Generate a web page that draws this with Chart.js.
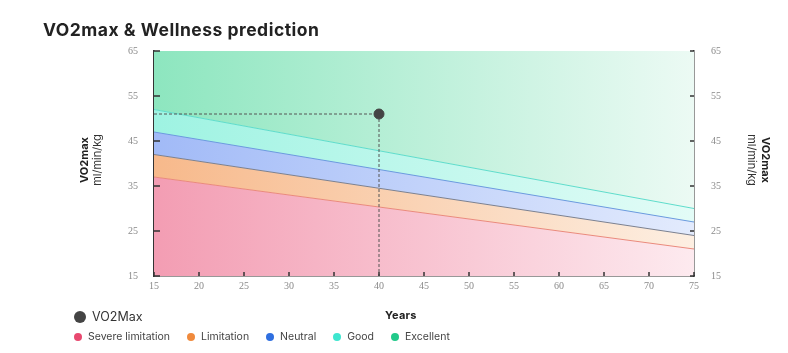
<!DOCTYPE html>
<html>
<head>
<meta charset="utf-8">
<script src="https://cdn.jsdelivr.net/npm/chart.js@4.4.1/dist/chart.umd.min.js"></script>
<style>
  body { margin: 0; background: #fff; }
  #wrap { position: relative; width: 788px; height: 353px; overflow: hidden; font-family: Inter, "Noto Sans", sans-serif; }
  #wrap canvas { position: absolute; left: 0; top: 0; }
  .titulo { position: absolute; left: 43px; top: 19px; font-size: 17.5px; font-weight: 700; color: #222; letter-spacing: 0.5px; }
  .years { position: absolute; left: 385px; top: 308px; font-size: 11px; font-weight: 700; color: #222; letter-spacing: 0.2px; }
  .leg { position: absolute; display: flex; align-items: center; color: #444; white-space: nowrap; }
  .leg i { display: inline-block; border-radius: 50%; margin-right: 6px; }
  .fila1 { left: 74px; top: 309px; font-size: 12.5px; color: #333; }
  .fila1 i { width: 12px; height: 12px; background: #444; margin-right: 6px; }
  .fila2 { left: 74px; top: 330px; font-size: 10.5px; }
  .fila2 span { display: flex; align-items: center; margin-right: 17px; }
  .fila2 i { width: 8px; height: 8px; }
</style>
</head>
<body>
<div id="wrap">
  <canvas id="grafico" width="788" height="353"></canvas>
  <div class="titulo">VO2max &amp; Wellness prediction</div>
  <div class="years">Years</div>
  <div class="leg fila1"><i></i>VO2Max</div>
  <div class="leg fila2" id="leyenda"></div>
</div>
<script>
// Datos
const years = [15, 75];
const severeTop = [37, 21];
const limitationTop = [42, 24];
const neutralTop = [47, 27];
const goodTop = [52, 30];
const excellentTop = [65, 65];

const vo2Age = [40];
const vo2Value = [51];

const zoneNames = ["Severe limitation", "Limitation", "Neutral", "Good", "Excellent"];
const zoneDots = ["#e8496f", "#f08a3c", "#2f6fe0", "#3ee6cf", "#22c98a"];

const yMin = 15, yMax = 65, yStep = 10;
const xMin = 15, xMax = 75, xStep = 5;

// colores de las bandas (izquierda -> derecha)
const zoneFill = [
  ["#f39db3", "#fdeaef"],
  ["#f7b98b", "#fdefe2"],
  ["#a1baf7", "#e3ebfd"],
  ["#9ef3e2", "#e3fcf7"],
  ["#8de6bf", "#ecfaf4"]
];
const zoneLine = ["#ea8a7c", "#7a8090", "#6a9ade", "#5edccb", "rgba(0,0,0,0)"];

function puntos(vals) {
  return years.map(function(x, i) { return { x: x, y: vals[i] }; });
}

function degradado(par) {
  return function(ctx) {
    const area = ctx.chart.chartArea;
    if (!area) return par[0];
    const g = ctx.chart.ctx.createLinearGradient(area.left, 0, area.right, 0);
    g.addColorStop(0, par[0]);
    g.addColorStop(1, par[1]);
    return g;
  };
}

const bandas = [severeTop, limitationTop, neutralTop, goodTop, excellentTop];
const datasets = bandas.map(function(vals, i) {
  return {
    label: zoneNames[i],
    data: puntos(vals),
    fill: i === 0 ? "start" : "-1",
    backgroundColor: degradado(zoneFill[i]),
    borderColor: zoneLine[i],
    borderWidth: i === 4 ? 0 : 1,
    pointRadius: 0,
    order: 5
  };
});

// lineas guia hasta el punto
datasets.push({
  label: "guia",
  data: [{ x: xMin, y: vo2Value[0] }, { x: vo2Age[0], y: vo2Value[0] }, { x: vo2Age[0], y: yMin }],
  borderColor: "#555",
  borderWidth: 1,
  borderDash: [3, 2],
  pointRadius: 0,
  fill: false,
  order: 1
});

datasets.push({
  label: "VO2Max",
  type: "scatter",
  data: vo2Age.map(function(x, i) { return { x: x, y: vo2Value[i] }; }),
  backgroundColor: "#444",
  borderColor: "#444",
  pointRadius: 5,
  order: 0
});

// marcas hacia adentro y titulos de ejes
const extras = {
  id: "extras",
  afterDraw: function(chart) {
    const c = chart.ctx;
    const a = chart.chartArea;
    const sx = chart.scales.x, sy = chart.scales.y;
    c.save();
    c.strokeStyle = "#333";
    c.lineWidth = 1.5;
    c.beginPath();
    for (let v = yMin; v <= yMax; v += yStep) {
      const py = sy.getPixelForValue(v);
      c.moveTo(a.left, py); c.lineTo(a.left + 6, py);
      c.moveTo(a.right, py); c.lineTo(a.right - 4, py);
    }
    for (let v = xMin; v <= xMax; v += xStep) {
      const px = sx.getPixelForValue(v);
      c.moveTo(px, a.bottom); c.lineTo(px, a.bottom - 4);
    }
    c.stroke();

    const cy = 160;
    c.fillStyle = "#222";
    c.textAlign = "center";
    c.textBaseline = "middle";
    // izquierda
    c.save();
    c.translate(85, cy);
    c.rotate(-Math.PI / 2);
    c.font = "bold 11px Inter, sans-serif";
    c.fillText("VO2max", 0, 0);
    c.font = "11px Inter, sans-serif";
    c.fillStyle = "#333";
    c.fillText("ml/min/kg", 0, 13);
    c.restore();
    // derecha
    c.save();
    c.translate(765, cy);
    c.rotate(Math.PI / 2);
    c.fillStyle = "#222";
    c.font = "bold 11px Inter, sans-serif";
    c.fillText("VO2max", 0, 0);
    c.font = "11px Inter, sans-serif";
    c.fillStyle = "#333";
    c.fillText("ml/min/kg", 0, 14);
    c.restore();
    c.restore();
  }
};

const fuenteTicks = { family: "'Liberation Serif', 'DejaVu Serif', serif", size: 10 };

new Chart(document.getElementById("grafico"), {
  type: "line",
  data: { datasets: datasets },
  options: {
    responsive: false,
    animation: false,
    layout: { padding: { top: 51, left: 0, right: 0, bottom: 0 } },
    plugins: { legend: { display: false }, tooltip: { enabled: false } },
    scales: {
      x: {
        type: "linear", min: xMin, max: xMax,
        ticks: { stepSize: xStep, color: "#8a8a8a", font: fuenteTicks, padding: 4, maxRotation: 0 },
        grid: { drawOnChartArea: false, drawTicks: false },
        border: { color: "#333", width: 1.5 },
        afterFit: function(s) { s.height = 77; }
      },
      y: {
        position: "left", min: yMin, max: yMax,
        ticks: { stepSize: yStep, color: "#8a8a8a", font: fuenteTicks, padding: 16 },
        grid: { drawOnChartArea: false, drawTicks: false },
        border: { color: "#333", width: 1.5 },
        afterFit: function(s) { s.width = 154; }
      },
      y2: {
        position: "right", min: yMin, max: yMax,
        ticks: { stepSize: yStep, color: "#8a8a8a", font: fuenteTicks, padding: 17 },
        grid: { drawOnChartArea: false, drawTicks: false },
        border: { color: "#333", width: 1.5 },
        afterFit: function(s) { s.width = 94; }
      }
    }
  },
  plugins: [extras]
});

// leyenda
const leyenda = document.getElementById("leyenda");
zoneNames.forEach(function(n, i) {
  const s = document.createElement("span");
  const d = document.createElement("i");
  d.style.background = zoneDots[i];
  s.appendChild(d);
  s.appendChild(document.createTextNode(n));
  leyenda.appendChild(s);
});
</script>
</body>
</html>
